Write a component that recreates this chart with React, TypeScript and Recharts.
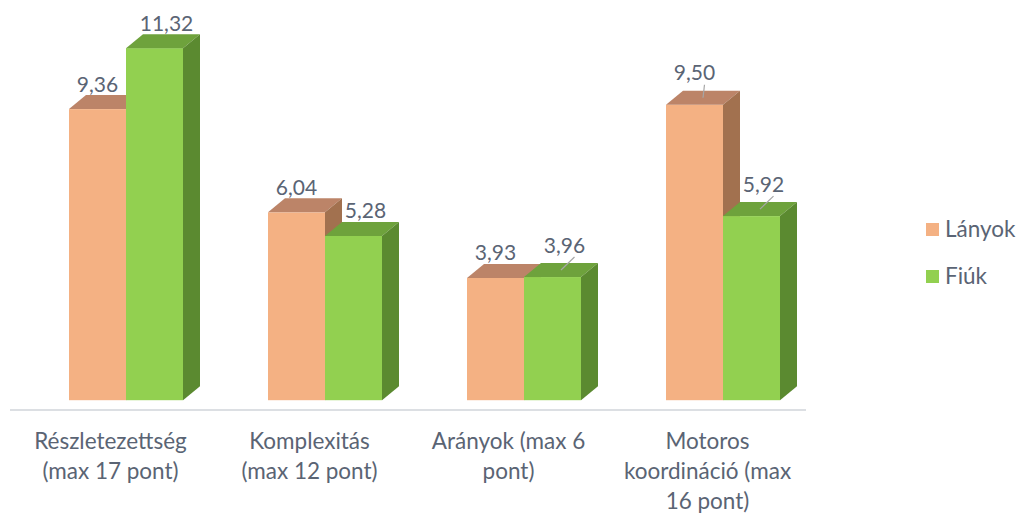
import React from "react";
import { BarChart, Bar, XAxis, YAxis, LabelList } from "recharts";

const categories = [
  "Részletezettség (max 17 pont)",
  "Komplexitás (max 12 pont)",
  "Arányok (max 6 pont)",
  "Motoros koordináció (max 16 pont)",
];
const lanyok = [9.36, 6.04, 3.93, 9.5];
const fiuk = [11.32, 5.28, 3.96, 5.92];
const seriesNames = ["Lányok", "Fiúk"];

const data = categories.map((c, i) => ({ name: c, Lányok: lanyok[i], Fiúk: fiuk[i] }));

const FONT = "Lato, 'Open Sans', sans-serif";
const TEXT_COLOR = "#5A6474";
const AXIS_FONT_SIZE = 22.5;
const DX = 17;
const DY = 14;

const palette: Record<string, { front: string; top: string; side: string }> = {
  Lányok: { front: "#F4B183", top: "#BC8468", side: "#A2714F" },
  Fiúk: { front: "#92D050", top: "#6EA23C", side: "#5B8A30" },
};

let ctx: CanvasRenderingContext2D | null = null;
const measure = (s: string) => {
  if (!ctx) {
    const c = document.createElement("canvas");
    ctx = c.getContext("2d");
  }
  if (!ctx) return s.length * AXIS_FONT_SIZE * 0.5;
  ctx.font = `${AXIS_FONT_SIZE}px Lato`;
  return ctx.measureText(s).width;
};

const wrap = (text: string, maxW: number) => {
  const words = text.split(" ");
  const lines: string[] = [];
  let cur = "";
  for (const w of words) {
    const cand = cur ? cur + " " + w : w;
    if (cur && measure(cand) > maxW) {
      lines.push(cur);
      cur = w;
    } else cur = cand;
  }
  if (cur) lines.push(cur);
  return lines;
};

const make3D = (key: string) => (props: any) => {
  const { x, y, width: w, height: h } = props;
  if (w == null || h == null) return null;
  const c = palette[key];
  return (
    <g>
      <rect x={x} y={y} width={w} height={h} fill={c.front} />
      <polygon
        points={`${x},${y} ${x + DX},${y - DY} ${x + w + DX},${y - DY} ${x + w},${y}`}
        fill={c.top}
      />
      <polygon
        points={`${x + w},${y} ${x + w + DX},${y - DY} ${x + w + DX},${y + h - DY} ${x + w},${y + h}`}
        fill={c.side}
      />
    </g>
  );
};

const leaders: Record<string, number[]> = { Lányok: [3], Fiúk: [2, 3] };
const labelShift: Record<string, number> = { Lányok: 0, Fiúk: 12 };

const makeLabel = (key: string) => (props: any) => {
  const { x, y, width: w, value, index } = props;
  const hasLeader = leaders[key].includes(index);
  const cx = x + w / 2 + labelShift[key];
  const ly = y - (hasLeader ? 33 : 26);
  return (
    <g>
      {hasLeader && (
        <line
          x1={cx + 10}
          y1={ly + 13}
          x2={x + w / 2 + DX / 2}
          y2={y - DY / 2}
          stroke="#A6A6A6"
          strokeWidth={1.2}
        />
      )}
      <text
        x={cx}
        y={ly}
        textAnchor="middle"
        dominantBaseline="central"
        fill={TEXT_COLOR}
        fontSize={21}
        fontFamily={FONT}
      >
        {Number(value).toFixed(2).replace(".", ",")}
      </text>
    </g>
  );
};

const CategoryTick = (props: any) => {
  const { x, y, payload } = props;
  const lines = wrap(String(payload.value), 170);
  return (
    <text
      x={x - 15}
      y={y}
      textAnchor="middle"
      fill={TEXT_COLOR}
      fontSize={AXIS_FONT_SIZE}
      fontFamily={FONT}
    >
      {lines.map((l, i) => (
        <tspan key={i} x={x - 15} y={y + 22 + i * 30} dominantBaseline="central">
          {l}
        </tspan>
      ))}
    </text>
  );
};

export default function App() {
  return (
    <div style={{ position: "absolute", left: 0, top: 0, width: 1019, height: 514, background: "#fff" }}>
      <BarChart
        width={1019}
        height={514}
        data={data}
        margin={{ top: 27, right: 197, left: 26, bottom: 0 }}
        barCategoryGap={43}
        barGap={0}
      >
        <YAxis hide type="number" domain={[-0.315, 12]} allowDataOverflow />
        <XAxis
          dataKey="name"
          height={104}
          axisLine={false}
          tickLine={false}
          tick={<CategoryTick />}
          interval={0}
        />
        {seriesNames.map((s) => (
          <Bar key={s} dataKey={s} fill={palette[s].front} shape={make3D(s)} isAnimationActive={false}>
            <LabelList dataKey={s} content={makeLabel(s)} />
          </Bar>
        ))}
      </BarChart>
      <div
        style={{
          position: "absolute",
          left: 10,
          top: 409,
          width: 796,
          height: 2,
          background: "#DCDFE3",
        }}
      />
      {seriesNames.map((s, i) => (
        <div
          key={s}
          style={{
            position: "absolute",
            left: 926,
            top: 217 + i * 47,
            display: "flex",
            alignItems: "center",
            fontFamily: FONT,
            fontSize: 22.5,
            color: TEXT_COLOR,
            lineHeight: "24px",
          }}
        >
          <span style={{ width: 13, height: 13, background: palette[s].front, marginRight: 6, display: "inline-block" }} />
          <span>{s}</span>
        </div>
      ))}
    </div>
  );
}
